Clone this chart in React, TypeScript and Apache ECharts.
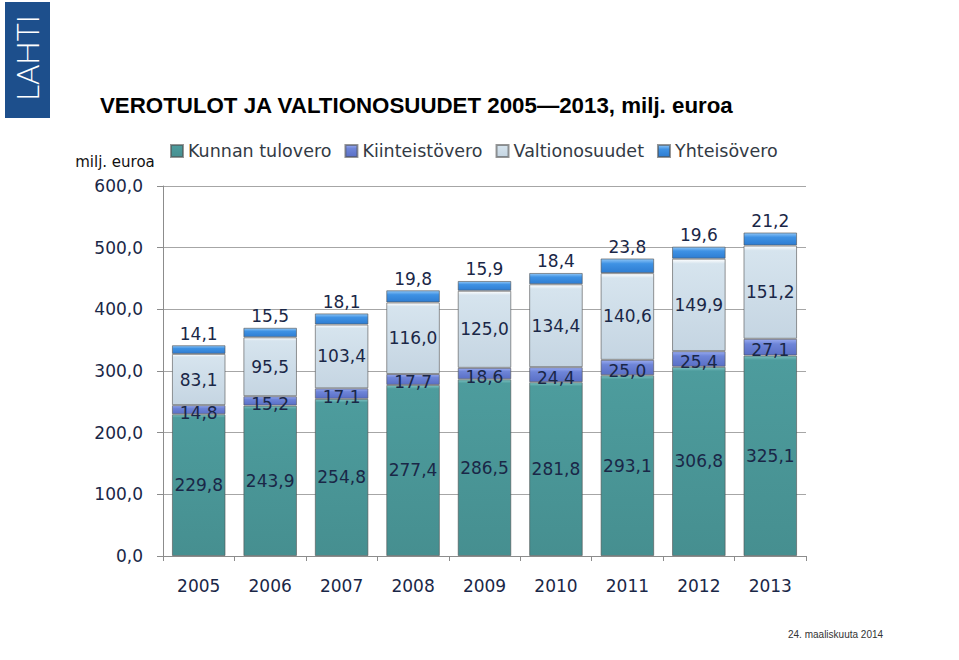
import React, { useEffect, useRef } from "react";
import * as echarts from "echarts";

const years = ["2005", "2006", "2007", "2008", "2009", "2010", "2011", "2012", "2013"];
const kunnanTulovero = [229.8, 243.9, 254.8, 277.4, 286.5, 281.8, 293.1, 306.8, 325.1];
const kiinteistovero = [14.8, 15.2, 17.1, 17.7, 18.6, 24.4, 25.0, 25.4, 27.1];
const valtionosuudet = [83.1, 95.5, 103.4, 116.0, 125.0, 134.4, 140.6, 149.9, 151.2];
const yhteisovero = [14.1, 15.5, 18.1, 19.8, 15.9, 18.4, 23.8, 19.6, 21.2];

const LABEL_COLOR = "#1a2747";
const FONT = "DejaVu Sans";

const fmt = (v: number) => v.toFixed(1).replace(".", ",");

const grad = (stops: [number, string][]) =>
  new echarts.graphic.LinearGradient(
    0,
    0,
    0,
    1,
    stops.map(([offset, color]) => ({ offset, color }))
  );

export default function App() {
  const ref = useRef<HTMLDivElement>(null);

  useEffect(() => {
    if (!ref.current) return;
    const chart = echarts.init(ref.current, undefined, { renderer: "svg" });

    const baseLabel = {
      show: true,
      fontFamily: FONT,
      fontSize: 17,
      color: LABEL_COLOR,
      formatter: (p: any) => fmt(p.value),
    };

    const border = { borderColor: "rgba(80,80,80,0.6)", borderWidth: 1 };

    chart.setOption({
      animation: false,
      backgroundColor: "#ffffff",
      legend: {
        left: 165,
        top: 137,
        padding: 5,
        itemWidth: 12,
        itemHeight: 12,
        itemGap: 13,
        icon: "rect",
        textStyle: { fontFamily: FONT, fontSize: 17.5, color: "#333a44" },
        data: ["Kunnan tulovero", "Kiinteistövero", "Valtionosuudet", "Yhteisövero"],
      },
      grid: { left: 163, right: 153, top: 186, bottom: 104, containLabel: false },
      xAxis: {
        type: "category",
        data: years,
        axisLine: { lineStyle: { color: "#8c8c8c", width: 1 } },
        axisTick: { show: true, length: 5, lineStyle: { color: "#8c8c8c" } },
        axisLabel: { fontFamily: FONT, fontSize: 17, color: LABEL_COLOR, margin: 21 },
      },
      yAxis: {
        type: "value",
        min: 0,
        max: 600,
        interval: 100,
        axisLine: { show: true, lineStyle: { color: "#8c8c8c", width: 1 } },
        axisTick: { show: true, inside: false, length: 6, lineStyle: { color: "#8c8c8c" } },
        axisLabel: {
          fontFamily: FONT,
          fontSize: 17,
          color: LABEL_COLOR,
          margin: 20,
          formatter: (v: number) => fmt(v),
        },
        splitLine: { show: true, lineStyle: { color: "#a6a6a6", width: 1 } },
      },
      series: [
        {
          name: "Kunnan tulovero",
          type: "bar",
          stack: "total",
          barWidth: "75%",
          data: kunnanTulovero,
          itemStyle: {
            color: grad([
              [0, "#7cc2c2"],
              [0.02, "#4d9c9d"],
              [1, "#468f90"],
            ]),
            ...border,
          },
          label: { ...baseLabel, position: "inside" },
        },
        {
          name: "Kiinteistövero",
          type: "bar",
          stack: "total",
          data: kiinteistovero,
          itemStyle: {
            color: grad([
              [0, "#98aaf0"],
              [0.3, "#6e85d8"],
              [1, "#5a6fc6"],
            ]),
            ...border,
          },
          label: { ...baseLabel, position: "inside", offset: [0, 3] },
        },
        {
          name: "Valtionosuudet",
          type: "bar",
          stack: "total",
          data: valtionosuudet,
          itemStyle: {
            color: grad([
              [0, "#ffffff"],
              [0.05, "#d6e4ee"],
              [1, "#c5d5e2"],
            ]),
            ...border,
          },
          label: { ...baseLabel, position: "inside" },
        },
        {
          name: "Yhteisövero",
          type: "bar",
          stack: "total",
          data: yhteisovero,
          itemStyle: {
            color: grad([
              [0, "#8fc6f7"],
              [0.35, "#3f92e4"],
              [1, "#2e7dd2"],
            ]),
            ...border,
          },
          label: { ...baseLabel, position: "top", distance: 3 },
        },
      ],
      graphic: [
        {
          type: "rect",
          shape: { x: 5, y: 2, width: 45, height: 116 },
          style: { fill: "#1d4f8c" },
        },
        {
          type: "text",
          x: 27,
          y: 58,
          rotation: Math.PI / 2,
          style: {
            text: "LAHTI",
            fontFamily: "Lato",
            fontWeight: 300,
            fontSize: 31,
            fill: "#ffffff",
            align: "center",
            verticalAlign: "middle",
          },
        },
        {
          type: "text",
          x: 100,
          y: 105,
          style: {
            text: "VEROTULOT JA VALTIONOSUUDET 2005\u20142013, milj. euroa",
            fontFamily: "Liberation Sans",
            fontWeight: "bold",
            fontSize: 22.3,
            fill: "#000000",
            align: "left",
            verticalAlign: "middle",
          },
        },
        {
          type: "text",
          x: 115,
          y: 162,
          style: {
            text: "milj. euroa",
            fontFamily: FONT,
            fontSize: 15,
            fill: "#111111",
            align: "center",
            verticalAlign: "middle",
          },
        },
        {
          type: "text",
          x: 788,
          y: 634,
          style: {
            text: "24. maaliskuuta 2014",
            fontFamily: "Liberation Sans",
            fontSize: 10,
            fill: "#333333",
            align: "left",
            verticalAlign: "middle",
          },
        },
      ],
    });

    return () => chart.dispose();
  }, []);

  return <div ref={ref} style={{ width: 959, height: 660, position: "absolute", left: 0, top: 0 }} />;
}
